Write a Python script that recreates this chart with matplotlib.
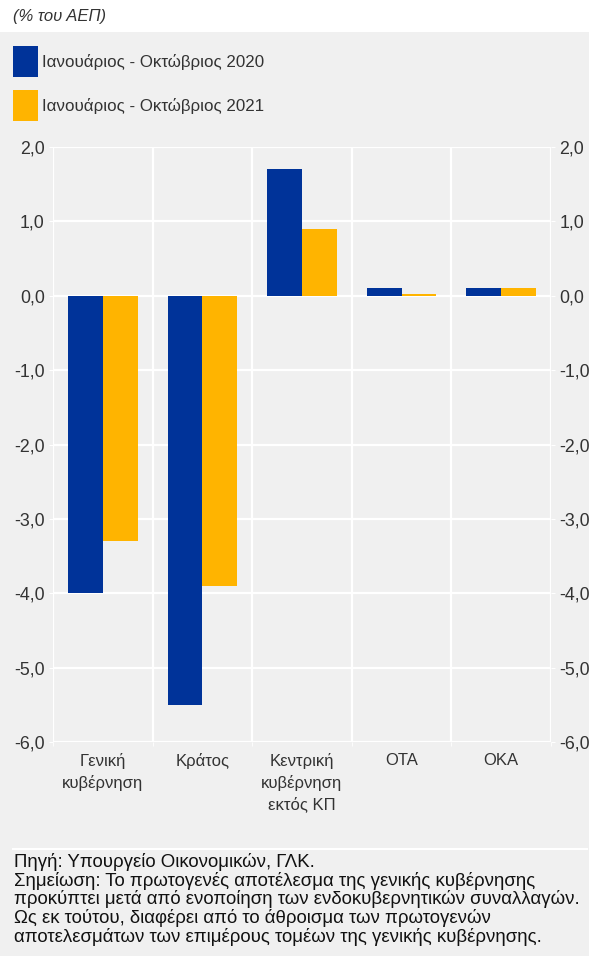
import matplotlib
matplotlib.use('Agg')
import matplotlib.pyplot as plt
import numpy as np

# Data (% of GDP)
categories = ['Γενική\nκυβέρνηση', 'Κράτος', 'Κεντρική\nκυβέρνηση\nεκτός ΚΠ', 'ΟΤΑ', 'ΟΚΑ']
series_names = ['Ιανουάριος - Οκτώβριος 2020', 'Ιανουάριος - Οκτώβριος 2021']
vals_2020 = [-4.0, -5.5, 1.7, 0.1, 0.1]
vals_2021 = [-3.3, -3.9, 0.9, 0.03, 0.1]
y_ticks = [-6, -5, -4, -3, -2, -1, 0, 1, 2]

BLUE = '#003399'
YELLOW = '#FFB400'
BG = '#F0F0F0'
TXT = '#333333'

plt.rcParams['font.family'] = ['Liberation Sans', 'DejaVu Sans']

W, H = 589, 956
fig = plt.figure(figsize=(W / 100, H / 100), dpi=100)
fig.patch.set_facecolor('white')

# grey panel below the white title band
fig.patches.append(plt.Rectangle((0, 0), 1, 1 - 32 / H, transform=fig.transFigure,
                                 facecolor=BG, edgecolor='none', zorder=-10))

fig.text(13 / W, 1 - 17 / H, '(% του ΑΕΠ)', fontsize=12, style='italic',
         color=TXT, va='center', ha='left')

# legend as patches + text
for i, (name, col) in enumerate(zip(series_names, [BLUE, YELLOW])):
    y0 = 46 + i * 44
    fig.patches.append(plt.Rectangle((13 / W, 1 - (y0 + 31) / H), 25 / W, 31 / H,
                                     transform=fig.transFigure, facecolor=col,
                                     edgecolor='none'))
    fig.text(42 / W, 1 - (y0 + 16) / H, name, fontsize=12.2, color=TXT,
             va='center', ha='left')

ax_l, ax_r, ax_t, ax_b = 53, 551, 147, 742
ax = fig.add_axes([ax_l / W, 1 - ax_b / H, (ax_r - ax_l) / W, (ax_b - ax_t) / H])
ax.set_facecolor(BG)

x = np.arange(len(categories))
bw = 0.35
ax.bar(x - bw / 2, vals_2020, bw, color=BLUE, zorder=3)
ax.bar(x + bw / 2, vals_2021, bw, color=YELLOW, zorder=3)

ax.set_xlim(-0.5, len(categories) - 0.5)
ax.set_ylim(-6, 2)
ax.set_yticks(y_ticks)
ax.set_yticklabels([f'{v:.1f}'.replace('.', ',') for v in y_ticks])
ax.set_xticks(x)
ax.set_xticklabels(categories, linespacing=1.42, va='top')
ax.set_xticks(np.arange(-0.5, len(categories)), minor=True)

ax.grid(True, axis='y', color='white', linewidth=1.6, zorder=1)
ax.grid(True, axis='x', which='minor', color='white', linewidth=1.6, zorder=1)
ax.grid(False, axis='x', which='major')

for s in ax.spines.values():
    s.set_visible(False)

ax.tick_params(axis='y', which='both', length=3, color='white', labelcolor=TXT,
               labelsize=12.8, left=True, right=True, labelleft=True,
               labelright=True, pad=3)
ax.tick_params(axis='x', which='major', length=0, labelcolor=TXT, labelsize=12, pad=8)
ax.tick_params(axis='x', which='minor', length=3, color='white')

# separator above footnote
fig.add_artist(plt.Line2D([13 / W, 587 / W], [1 - 849 / H] * 2, transform=fig.transFigure,
                          color='white', linewidth=1.5))

note = ('Πηγή: Υπουργείο Οικονομικών, ΓΛΚ.\n'
        'Σημείωση: Το πρωτογενές αποτέλεσμα της γενικής κυβέρνησης\n'
        'προκύπτει μετά από ενοποίηση των ενδοκυβερνητικών συναλλαγών.\n'
        'Ως εκ τούτου, διαφέρει από το άθροισμα των πρωτογενών\n'
        'αποτελεσμάτων των επιμέρους τομέων της γενικής κυβέρνησης.')
fig.text(14 / W, 1 - 853 / H, note, fontsize=13.4, color='#111111', va='top',
         ha='left', linespacing=1.05)

fig.savefig('out.png', dpi=100, facecolor=fig.get_facecolor())
